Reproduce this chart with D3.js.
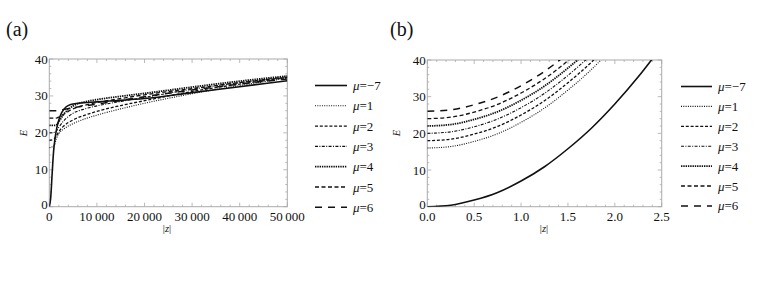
<!DOCTYPE html>
<meta charset="utf-8">
<head>
  <title>E versus |z|</title>
</head>

<style>
body {
  margin: 0;
  background: #fff;
}
svg text {
  font-family: 'Liberation Serif', 'DejaVu Serif', serif;
  fill: #111;
}
.frame {
  fill: none;
  stroke: #aaa;
  stroke-width: 1;
}
.tick-mark {
  stroke: #aaa;
  stroke-width: 0.8;
}
.curve {
  fill: none;
  stroke: #111;
}
</style>

<body>
  <svg width="763" height="290"></svg>

  <script src="https://cdnjs.cloudflare.com/ajax/libs/d3/7.8.5/d3.min.js"></script>

  <script>
  // legend labels and series order
  var labels = ['\u03bc=\u22127', '\u03bc=1', '\u03bc=2', '\u03bc=3', '\u03bc=4', '\u03bc=5', '\u03bc=6'];

  // panel (a): E against |z| up to 50 000
  var zA = [0, 1000, 1500, 2000, 3000, 5000, 7500, 10000, 15000, 20000, 30000, 40000, 50000];
  var zAsolid = [0, 300, 600, 900, 1200, 1600, 2000, 2600, 3500, 4500, 6000, 8000, 10000, 15000, 20000, 30000, 40000, 50000];
  var eAm7 = [0, 2.5, 9, 15, 18.5, 21.5, 23.5, 25.5, 27, 27.7, 28, 28.2, 28.4, 28.8, 29.3, 30.9, 32.5, 34.1];
  var eA1 = [16, 16.5, 18.5, 19.8, 21, 22.5, 23.8, 24.8, 26.5, 28, 30.6, 32.8, 34.8];
  var eA2 = [18, 18.3, 19.2, 20.3, 21.8, 23.5, 24.8, 25.8, 27.4, 28.7, 31.2, 33.2, 35];
  var eA3 = [20, 20.1, 20.5, 21.5, 23.2, 25.3, 26.5, 27.3, 28.5, 29.6, 31.8, 33.6, 35.2];
  var eA4 = [22, 22, 22.2, 23, 25, 27.3, 28.4, 29, 29.9, 30.7, 32.4, 34, 35.4];
  var eA5 = [24, 24, 24, 24.3, 25, 26.5, 27.5, 28.2, 29.3, 30.3, 32, 33.6, 35];
  var eA6 = [26, 26, 26, 26, 26.3, 26.8, 27.3, 27.8, 28.8, 29.8, 31.6, 33.2, 34.6];

  // panel (b): small |z|
  var zB = [0, 0.25, 0.5, 0.75, 1, 1.25, 1.5, 1.75, 2, 2.25, 2.4];
  var eBm7 = [0, 0.4, 1.8, 3.9, 7, 10.9, 15.8, 21.4, 28, 35.4, 40.3];
  var eB1 = [16, 16.4, 17.8, 19.9, 23, 26.9, 31.8, 37.4, 44];
  var eB2 = [18, 18.4, 19.8, 21.9, 25, 28.9, 33.8, 39.4, 46];
  var eB3 = [20, 20.4, 21.8, 23.9, 27, 30.9, 35.8, 41.4];
  var eB4 = [22, 22.4, 23.8, 25.9, 29, 32.9, 37.8, 43.4];
  var eB5 = [24, 24.4, 25.8, 27.9, 31, 34.9, 39.8, 45.4];
  var eB6 = [26, 26.4, 27.8, 29.9, 33, 36.9, 41.8];

  var yTicks = [0, 10, 20, 30, 40];
  var xTicksA = [0, 10000, 20000, 30000, 40000, 50000];
  var xTicksB = [0, 0.5, 1, 1.5, 2, 2.5];

  // line styles per series
  var styles = [
    {dash: null, w: 1.6},
    {dash: '1,1.3', w: 1.1},
    {dash: '3,1.8', w: 1.3},
    {dash: '3,1.4,1,1.4', w: 1.1},
    {dash: '1.4,0.9', w: 1.8},
    {dash: '4,2.5', w: 1.3},
    {dash: '7,6', w: 1.5}
  ];

  var thin = d3.formatLocale({decimal: '.', thousands: '\u2009', grouping: [3], currency: ['', '']});

  var svg = d3.select('svg');

  function zip(xs, ys) {
    return ys.map(function(y, i) { return [xs[i], y]; });
  }

  var panels = [
    {
      id: 'a', title: '(a)', titleX: 6, left: 49.3, right: 287.3, top: 59, bottom: 206.7,
      xMax: 50000, xTicks: xTicksA, xMinor: 2000, fmt: thin.format(','),
      series: [zip(zAsolid, eAm7), zip(zA, eA1), zip(zA, eA2), zip(zA, eA3), zip(zA, eA4), zip(zA, eA5), zip(zA, eA6)],
      eX: 24, zX: 167, legX: 315, legY: 85.5, legStep: 20.3, legLen: 32
    },
    {
      id: 'b', title: '(b)', titleX: 390, left: 427.3, right: 661.7, top: 60, bottom: 206.7,
      xMax: 2.5, xTicks: xTicksB, xMinor: 0.1, fmt: d3.format('.1f'),
      series: [zip(zB, eBm7), zip(zB, eB1), zip(zB, eB2), zip(zB, eB3), zip(zB, eB4), zip(zB, eB5), zip(zB, eB6)],
      eX: 397, zX: 544, legX: 681, legY: 86.5, legStep: 19.9, legLen: 31
    }
  ];

  panels.forEach(function(p) {
    var x = d3.scaleLinear().domain([0, p.xMax]).range([p.left, p.right]);
    var y = d3.scaleLinear().domain([0, 40]).range([p.bottom, p.top]);
    var g = svg.append('g');

    g.append('text')
      .attr('x', p.titleX)
      .attr('y', 36)
      .style('font-size', '20px')
      .text(p.title);

    g.append('clipPath').attr('id', 'clip-' + p.id)
      .append('rect')
      .attr('x', p.left).attr('y', p.top)
      .attr('width', p.right - p.left).attr('height', p.bottom - p.top);

    // minor and major ticks on all four sides
    var xMinorTicks = d3.range(0, p.xMax + p.xMinor / 2, p.xMinor);
    var yMinorTicks = d3.range(0, 40.5, 2);
    function isMajorX(v) { return p.xTicks.some(function(t) { return Math.abs(t - v) < p.xMinor / 10; }); }

    xMinorTicks.forEach(function(v) {
      var len = isMajorX(v) ? 4 : 2;
      g.append('line').attr('class', 'tick-mark')
        .attr('x1', x(v)).attr('x2', x(v)).attr('y1', p.bottom).attr('y2', p.bottom - len);
      g.append('line').attr('class', 'tick-mark')
        .attr('x1', x(v)).attr('x2', x(v)).attr('y1', p.top).attr('y2', p.top + len);
    });
    yMinorTicks.forEach(function(v) {
      var len = v % 10 === 0 ? 4 : 2;
      g.append('line').attr('class', 'tick-mark')
        .attr('x1', p.left).attr('x2', p.left + len).attr('y1', y(v)).attr('y2', y(v));
      g.append('line').attr('class', 'tick-mark')
        .attr('x1', p.right).attr('x2', p.right - len).attr('y1', y(v)).attr('y2', y(v));
    });

    g.append('rect').attr('class', 'frame')
      .attr('x', p.left).attr('y', p.top)
      .attr('width', p.right - p.left).attr('height', p.bottom - p.top);

    g.selectAll('text.xl')
      .data(p.xTicks)
      .enter()
      .append('text')
      .attr('class', 'xl')
      .attr('x', function(d) { return x(d); })
      .attr('y', 220.5)
      .attr('text-anchor', 'middle')
      .style('font-size', '13px')
      .text(function(d) { return p.fmt(d); });

    g.selectAll('text.yl')
      .data(yTicks)
      .enter()
      .append('text')
      .attr('class', 'yl')
      .attr('x', p.left - 1.5)
      .attr('y', function(d) { return y(d) + (d === 0 ? 2.5 : 4.5); })
      .attr('text-anchor', 'end')
      .style('font-size', '13px')
      .text(function(d) { return d; });

    g.append('text')
      .attr('transform', 'translate(' + (p.eX + 3) + ',' + 133 + ') rotate(-90)')
      .attr('text-anchor', 'middle')
      .style('font-size', '10.5px')
      .style('font-style', 'italic')
      .text('E');

    var zl = g.append('text')
      .attr('x', p.zX)
      .attr('y', 232)
      .attr('text-anchor', 'middle')
      .style('font-size', '10.5px');
    zl.append('tspan').text('|');
    zl.append('tspan').style('font-style', 'italic').text('z');
    zl.append('tspan').text('|');

    var line = d3.line()
      .x(function(d) { return x(d[0]); })
      .y(function(d) { return y(d[1]); })
      .curve(d3.curveMonotoneX);

    g.append('g')
      .attr('clip-path', 'url(#clip-' + p.id + ')')
      .selectAll('path')
      .data(p.series)
      .enter()
      .append('path')
      .attr('class', 'curve')
      .attr('d', line)
      .attr('stroke-width', function(d, i) { return styles[i].w; })
      .attr('stroke-dasharray', function(d, i) { return styles[i].dash; });

    // legend
    var leg = g.selectAll('g.leg')
      .data(labels)
      .enter()
      .append('g')
      .classed('leg', true)
      .attr('transform', function(d, i) {
        return 'translate(' + p.legX + ',' + (p.legY + i * p.legStep) + ')';
      });
    leg.append('line')
      .attr('class', 'curve')
      .attr('x1', 0).attr('x2', p.legLen)
      .attr('y1', 0).attr('y2', 0)
      .attr('stroke-width', function(d, i) { return styles[i].w; })
      .attr('stroke-dasharray', function(d, i) { return styles[i].dash; });
    var lt = leg.append('text')
      .attr('x', p.legLen + 6)
      .attr('y', 4.5)
      .style('font-size', '13px');
    lt.append('tspan').style('font-style', 'italic').text(function(d) { return d.charAt(0); });
    lt.append('tspan').text(function(d) { return d.slice(1); });
  });

  </script>
</body>
</html>
